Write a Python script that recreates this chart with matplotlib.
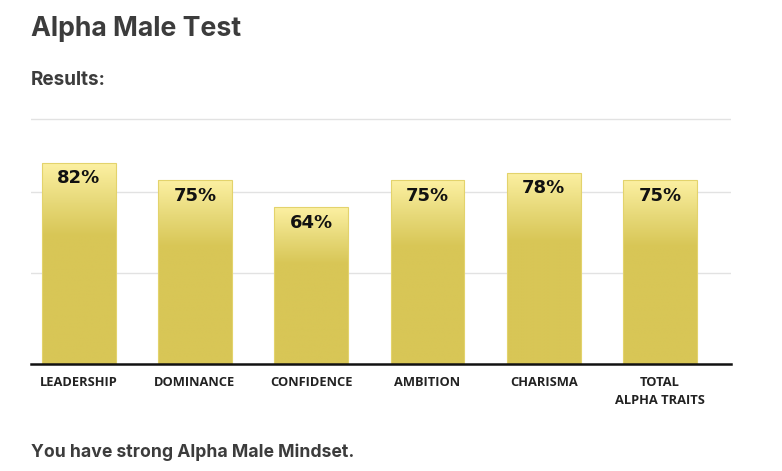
import numpy as np
import matplotlib
matplotlib.use('Agg')
from matplotlib import pyplot as plt
from matplotlib.colors import LinearSegmentedColormap

categories = ['LEADERSHIP', 'DOMINANCE', 'CONFIDENCE', 'AMBITION', 'CHARISMA', 'TOTAL\nALPHA TRAITS']
scores = [82, 75, 64, 75, 78, 75]
value_labels = ['82%', '75%', '64%', '75%', '78%', '75%']
grid_levels = [37, 70, 100]

W, H = 782, 471
fig = plt.figure(figsize=(W / 100, H / 100), dpi=100)
ax = fig.add_axes([31 / W, (H - 364) / H, 700 / W, (364 - 116.5) / H])

x = np.arange(len(scores))
bars = ax.bar(x, scores, width=0.636, color='none', edgecolor='#e3d36c',
              linewidth=0.8, zorder=3)

# gold gradient, light at the top of each bar
cmap = LinearSegmentedColormap.from_list(
    'gold', [(0, '#d8c656'), (0.64, '#d8c656'), (0.8, '#e6d877'), (1, '#fcf0a2')])
grad = np.linspace(0, 1, 256).reshape(-1, 1)
for b, lab in zip(bars, value_labels):
    x0, w, h = b.get_x(), b.get_width(), b.get_height()
    im = ax.imshow(grad, cmap=cmap, origin='lower', aspect='auto',
                   extent=[x0, x0 + w, 0, h], zorder=2, interpolation='bilinear')
    im.set_clip_path(b)
    ax.text(x0 + w / 2, h - 6.3, lab, ha='center', va='center',
            fontsize=13, fontweight='bold', family='DejaVu Sans', color='#111111', zorder=4)

ax.set_xlim(-0.41, 5.61)
ax.set_ylim(0, 101)
ax.set_xticks(x)
ax.set_xticklabels(categories, fontsize=9.3, fontweight='bold', family='Open Sans',
                   color='#222222', linespacing=1.42)
ax.set_yticks(grid_levels)
ax.set_yticklabels([])
ax.tick_params(axis='both', length=0)
ax.tick_params(axis='x', pad=9)
ax.grid(axis='y', color='#e2e2e2', linewidth=1.0, zorder=0)
ax.set_axisbelow(True)
for s in ['left', 'right', 'top']:
    ax.spines[s].set_visible(False)
ax.spines['bottom'].set_color('#111111')
ax.spines['bottom'].set_linewidth(1.8)
ax.spines['bottom'].set_zorder(5)

txt_color = '#3c3c3c'
fig.text(31 / W, 1 - 36.5 / H, 'Alpha Male Test', fontsize=19.2, fontweight='bold',
         family='Inter', color=txt_color, va='baseline')
fig.text(31 / W, 1 - 85 / H, 'Results:', fontsize=13.6, fontweight='bold',
         family='Inter', color=txt_color, va='baseline')
fig.text(31 / W, 1 - 457 / H, 'You have strong Alpha Male Mindset.', fontsize=12.7,
         fontweight='bold', family='Inter', color=txt_color, va='baseline')

fig.savefig('out.png', dpi=100)
